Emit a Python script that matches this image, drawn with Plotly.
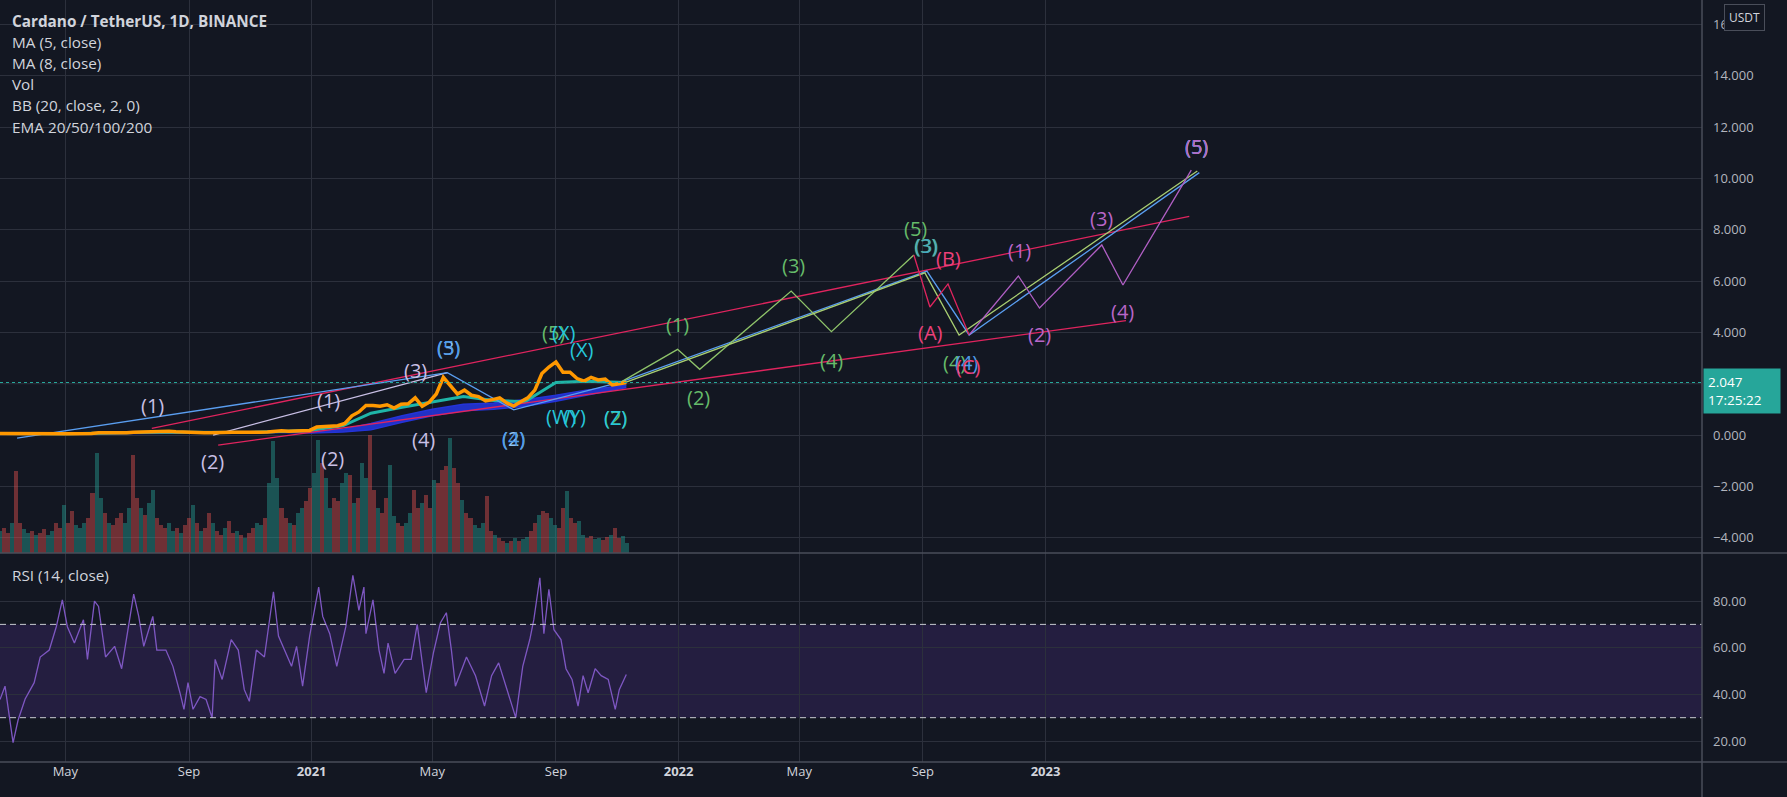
import pandas as pd
import plotly.graph_objects as go

# ---------------- data ----------------
close_start = "2020-02-26"
close_vals = [0.055, 0.053, 0.038, 0.028, 0.030, 0.030, 0.035, 0.033, 0.039, 0.048,
              0.049, 0.047, 0.050, 0.060, 0.085, 0.084, 0.078, 0.080, 0.088, 0.110,
              0.118, 0.130, 0.140, 0.140, 0.145, 0.128, 0.110, 0.100, 0.095, 0.090,
              0.086, 0.102, 0.103, 0.106, 0.108, 0.098, 0.094, 0.103, 0.118, 0.150,
              0.163, 0.150, 0.162, 0.140, 0.180, 0.310, 0.330, 0.350, 0.360, 0.450,
              0.750, 0.900, 1.150, 1.150, 1.120, 1.180, 1.050, 1.200, 1.220, 1.450,
              1.120, 1.280, 1.600, 2.250, 1.900, 1.600, 1.750, 1.550, 1.500, 1.330,
              1.380, 1.450, 1.250, 1.130, 1.300, 1.450, 1.750, 2.400, 2.650, 2.850,
              2.450, 2.450, 2.200, 2.100, 2.250, 2.150, 2.180, 1.950, 2.000, 2.047]

ema_dates = ["2020-02-26", "2020-04-01", "2020-05-01", "2020-06-01", "2020-07-01", "2020-08-01",
             "2020-09-01", "2020-10-01", "2020-11-01", "2020-12-01", "2021-01-01", "2021-02-01",
             "2021-03-01", "2021-04-01", "2021-05-01", "2021-06-01", "2021-07-01", "2021-08-01",
             "2021-09-01", "2021-10-01", "2021-11-10"]
band_lo = [0.05, 0.04, 0.04, 0.045, 0.055, 0.07, 0.08, 0.09, 0.09, 0.095, 0.08, 0.12,
           0.20, 0.50, 0.75, 0.95, 1.00, 1.12, 1.32, 1.55, 1.85]
band_hi = [0.06, 0.05, 0.045, 0.06, 0.07, 0.09, 0.10, 0.10, 0.10, 0.12, 0.13, 0.22,
           0.45, 0.75, 1.00, 1.20, 1.25, 1.38, 1.55, 1.75, 1.95]
ema_fast = [0.055, 0.035, 0.045, 0.07, 0.09, 0.12, 0.11, 0.10, 0.10, 0.14, 0.19, 0.36,
            0.85, 1.08, 1.30, 1.50, 1.35, 1.30, 2.05, 2.10, 2.05]

vol_start = "2020-02-26"
vol_m = [440, 500, 400, 600, 1640, 600, 480, 400, 440, 360,
         400, 480, 360, 440, 600, 500, 960, 600, 840, 560,
         500, 600, 700, 1200, 2000, 1100, 800, 600, 560, 700,
         800, 600, 900, 1960, 1100, 900, 760, 1000, 1260, 700,
         560, 500, 600, 440, 500, 400, 560, 700, 960, 600,
         440, 500, 800, 600, 440, 360, 500, 640, 400, 440,
         360, 300, 400, 500, 600, 560, 700, 1400, 2240, 1500,
         900, 700, 600, 560, 800, 900, 1040, 1300, 1600, 2260,
         1800, 1500, 900, 1100, 1040, 1400, 1600, 1560, 1000, 1100,
         1800, 1500, 2360, 1260, 900, 800, 1100, 1760, 740, 600,
         540, 600, 800, 1260, 900, 1000, 1160, 900, 1460, 1400,
         1660, 1740, 2300, 1700, 1400, 1060, 800, 700, 560, 500,
         600, 1140, 440, 360, 300, 240, 200, 240, 300, 240,
         280, 320, 440, 600, 760, 840, 800, 700, 560, 500,
         900, 1240, 700, 600, 640, 360, 300, 340, 280, 300,
         260, 320, 360, 500, 300, 340, 200]
vol_dir = ("uddudduudu" "dduudduddu" "uudduududd" "duudduduud" "dduududdud"
           "uddudduddu" "dudduuduuu" "dduduudduu" "duudduudud" "uuddudduud"
           "duudduddud" "dduddudduu" "udduddudud" "uuddudduud" "dudduudduu" "ddudduu")

rsi_dates = ["2020-02-26", "2020-03-02", "2020-03-10", "2020-03-15", "2020-03-22", "2020-03-31",
             "2020-04-06", "2020-04-15", "2020-04-22", "2020-04-28",
             "2020-05-03", "2020-05-10", "2020-05-19", "2020-05-23", "2020-05-30", "2020-06-03",
             "2020-06-10", "2020-06-19", "2020-06-26", "2020-07-02",
             "2020-07-08", "2020-07-13", "2020-07-18", "2020-07-27", "2020-07-31", "2020-08-09",
             "2020-08-16", "2020-08-23", "2020-08-27", "2020-08-31",
             "2020-09-05", "2020-09-12", "2020-09-18", "2020-09-24", "2020-09-27", "2020-10-04",
             "2020-10-13", "2020-10-20", "2020-10-26", "2020-10-31",
             "2020-11-07", "2020-11-15", "2020-11-24", "2020-11-29", "2020-12-05", "2020-12-12",
             "2020-12-17", "2020-12-23", "2020-12-30", "2021-01-08",
             "2021-01-12", "2021-01-19", "2021-01-26", "2021-02-04", "2021-02-11", "2021-02-17",
             "2021-02-22", "2021-02-24", "2021-03-03", "2021-03-09",
             "2021-03-14", "2021-03-18", "2021-03-25", "2021-04-03", "2021-04-10", "2021-04-16",
             "2021-04-25", "2021-05-02", "2021-05-09", "2021-05-15",
             "2021-05-20", "2021-05-24", "2021-06-04", "2021-06-13", "2021-06-22", "2021-06-29",
             "2021-07-06", "2021-07-12", "2021-07-23", "2021-07-30",
             "2021-08-06", "2021-08-10", "2021-08-16", "2021-08-20", "2021-08-25", "2021-08-30",
             "2021-09-06", "2021-09-11", "2021-09-17", "2021-09-23",
             "2021-09-28", "2021-10-03", "2021-10-10", "2021-10-16", "2021-10-23", "2021-10-30",
             "2021-11-03", "2021-11-10"]
rsi_vals = [37.8, 43.5, 19.3, 29, 38, 45, 56, 59, 69, 80.5,
            69, 62, 72, 55, 80, 77.7, 56, 60.6, 51, 67.7,
            83, 73.4, 60.6, 73.4, 59, 59, 52, 40.7, 33.6, 45,
            33.6, 39, 37.8, 30, 55, 46.4, 63.5, 59, 42, 37,
            59, 56, 84, 65, 59, 52, 60.6, 43.5, 65, 86,
            73.4, 66, 52, 69, 91, 76, 86, 66, 80.5, 59,
            49, 62, 49, 55, 55, 70, 40.7, 57.6, 70.6, 75,
            59, 43.5, 56, 48, 35, 48, 53.5, 45, 30, 52,
            63.5, 72, 90, 66, 85, 67.7, 63.5, 51, 46.4, 35,
            48, 40.7, 51, 48, 46.4, 33.6, 42, 48.5]

last_price = 2.047
price_ticks = [-4, -2, 0, 4, 6, 8, 10, 12, 14, 16]   # 2.000 is hidden behind the price tag
price_grid_extra = [2]
rsi_ticks = [20, 40, 60, 80]
time_ticks = ["2020-05-01", "2020-09-01", "2021-01-01", "2021-05-01", "2021-09-01",
              "2022-01-01", "2022-05-01", "2022-09-01", "2023-01-01"]
time_labels = ["May", "Sep", "<b>2021</b>", "May", "Sep", "<b>2022</b>", "May", "Sep", "<b>2023</b>"]

# drawings (date, price)
blue_x = ["2020-03-14", "2021-05-16", "2021-07-21", "2021-11-05", "2022-09-05", "2022-10-17", "2023-06-03"]
blue_y = [-0.12, 2.43, 0.98, 2.07, 6.39, 3.90, 10.23]
pink_up_x = ["2020-07-26", "2023-05-24"]
pink_up_y = [0.26, 8.52]
pink_lo_x = ["2020-09-30", "2023-03-22"]
pink_lo_y = [-0.39, 4.46]
lav_x = ["2020-09-25", "2021-05-16"]
lav_y = [0.0, 2.43]
green_x = ["2021-11-05", "2021-12-31", "2022-01-22", "2022-04-23", "2022-06-02", "2022-08-23"]
green_y = [2.07, 3.34, 2.56, 5.61, 4.03, 7.02]
olive_x = ["2021-11-05", "2022-09-03", "2022-10-07", "2023-06-01"]
olive_y = [1.99, 6.32, 3.90, 10.29]
abc_x = ["2022-08-23", "2022-09-08", "2022-09-26", "2022-10-17"]
abc_y = [7.02, 4.99, 5.89, 3.90]
purple_x = ["2022-10-17", "2022-12-05", "2022-12-26", "2023-02-26", "2023-03-19", "2023-05-26"]
purple_y = [3.90, 6.20, 4.95, 7.41, 5.85, 10.33]

LAV, BLUE, LBLUE, GREEN, TEAL, PINK, PURPLE = ("#c9c0e6", "#4f9be8", "#8ec5f5", "#66bb6a",
                                               "#26c6da", "#ec407a", "#b966c9")
wave_labels = [
    ("(1)", "2020-07-27", 1.17, LAV), ("(2)", "2020-09-24", -1.05, LAV),
    ("(1)", "2021-01-18", 1.36, LAV), ("(2)", "2021-01-22", -0.90, LAV),
    ("(3)", "2021-04-14", 2.53, LAV), ("(4)", "2021-04-22", -0.19, LAV),
    ("(3)", "2021-05-17", 3.43, LBLUE), ("(5)", "2021-05-17", 3.43, BLUE),
    ("(2)", "2021-07-21", -0.12, LBLUE), ("(4)", "2021-07-21", -0.12, BLUE),
    ("(5)", "2021-08-30", 3.98, GREEN), ("(X)", "2021-09-09", 3.98, TEAL),
    ("(X)", "2021-09-26", 3.35, TEAL),
    ("(W)", "2021-09-06", 0.74, TEAL), ("(Y)", "2021-09-19", 0.74, TEAL),
    ("(2)", "2021-10-30", 0.70, GREEN), ("(Z)", "2021-10-30", 0.70, TEAL),
    ("(1)", "2021-12-31", 4.29, GREEN), ("(2)", "2022-01-21", 1.48, GREEN),
    ("(3)", "2022-04-25", 6.59, GREEN), ("(4)", "2022-06-02", 2.92, GREEN),
    ("(5)", "2022-08-25", 8.07, GREEN),
    ("(3)", "2022-09-04", 7.37, GREEN), ("(3)", "2022-09-05", 7.37, "#42a5c5"),
    ("(B)", "2022-09-26", 6.90, PINK), ("(A)", "2022-09-09", 3.98, PINK),
    ("(4)", "2022-10-02", 2.81, GREEN), ("(4)", "2022-10-14", 2.81, BLUE),
    ("(C)", "2022-10-16", 2.69, PINK),
    ("(1)", "2022-12-06", 7.21, PURPLE), ("(2)", "2022-12-26", 3.90, PURPLE),
    ("(3)", "2023-02-26", 8.46, PURPLE), ("(4)", "2023-03-19", 4.80, PURPLE),
    ("(5)", "2023-05-31", 11.23, LAV), ("(5)", "2023-05-31", 11.23, GREEN),
    ("(5)", "2023-05-31", 11.23, BLUE), ("(5)", "2023-05-31", 11.23, PURPLE),
]

legend_lines = ["<b>Cardano / TetherUS, 1D, BINANCE</b>", "MA (5, close)", "MA (8, close)",
                "Vol", "BB (20, close, 2, 0)", "EMA 20/50/100/200"]

# ---------------- figure ----------------
W, H = 1787, 797
ML, MR, MT, MB = 0, 85, 0, 35
PW, PH = W - ML - MR, H - MT - MB
SPLIT = 209 / PH  # RSI pane height fraction
BG = "#131722"
GRID = "#2c303c"
SEP = "#4a4e5a"
TXT = "#d1d4dc"
FONT = "Open Sans, sans-serif"

fig = go.Figure()

close_dates = pd.date_range(close_start, periods=len(close_vals), freq="7D")
vol_dates = pd.date_range(vol_start, periods=len(vol_m), freq="4D")
vol_colors = ["rgba(38,166,154,0.42)" if c == "u" else "rgba(239,83,80,0.42)" for c in vol_dir]

fig.add_trace(go.Bar(x=vol_dates, y=vol_m, marker_color=vol_colors, marker_line_width=0,
                     width=4 * 86400000, yaxis="y3", xaxis="x"))

fig.add_trace(go.Scatter(x=ema_dates, y=band_lo, mode="lines", line=dict(color="#2434d8", width=1.5),
                         yaxis="y", xaxis="x"))
fig.add_trace(go.Scatter(x=ema_dates, y=band_hi, mode="lines", line=dict(color="#2434d8", width=1.5),
                         fill="tonexty", fillcolor="rgba(36,52,216,0.9)", yaxis="y", xaxis="x"))
fig.add_trace(go.Scatter(x=ema_dates, y=ema_fast, mode="lines", line=dict(color="#1fb5a8", width=3),
                         yaxis="y", xaxis="x"))

drawings = [
    (pink_up_x, pink_up_y, "#e0245e"), (pink_lo_x, pink_lo_y, "#e0245e"),
    (lav_x, lav_y, "#c9c0e6"), (blue_x, blue_y, "#5a9ef0"),
    (green_x, green_y, "#8fc46a"), (olive_x, olive_y, "#a9cf72"),
    (abc_x, abc_y, "#e0245e"), (purple_x, purple_y, "#b05fc4"),
]
for dx, dy, col in drawings:
    fig.add_trace(go.Scatter(x=dx, y=dy, mode="lines", line=dict(color=col, width=1.3),
                             yaxis="y", xaxis="x"))

fig.add_trace(go.Scatter(x=close_dates, y=close_vals, mode="lines",
                         line=dict(color="#ff9800", width=3.5), yaxis="y", xaxis="x"))

fig.add_trace(go.Scatter(x=rsi_dates, y=rsi_vals, mode="lines", line=dict(color="#7e57c2", width=1.3),
                         yaxis="y2", xaxis="x"))

annotations = []
for txt, d, p, col in wave_labels:
    annotations.append(dict(x=d, y=p, xref="x", yref="y", text=txt, showarrow=False,
                            font=dict(family=FONT, size=20, color=col)))
for i, t in enumerate(legend_lines):
    annotations.append(dict(x=10 / PW, y=1 - (21 + 21.1 * i) / PH, xref="paper", yref="paper",
                            xanchor="left", yanchor="middle", text=t, showarrow=False,
                            font=dict(family=FONT, size=15.3, color=TXT)))
annotations.append(dict(x=10 / PW, y=1 - 575 / PH, xref="paper", yref="paper", xanchor="left",
                        yanchor="middle", text="RSI (14, close)", showarrow=False,
                        font=dict(family=FONT, size=15.3, color=TXT)))
annotations.append(dict(x=1, y=last_price, xref="paper", yref="y", xanchor="left", yanchor="middle",
                        yshift=-8, xshift=1, text=f"{last_price:.3f}<br>17:25:22", align="left",
                        showarrow=False, bgcolor="#26a69a", borderpad=4, width=68,
                        font=dict(family=FONT, size=13.5, color="#ffffff")))
annotations.append(dict(x=1 + 42 / PW, y=1 - 17 / PH, xref="paper", yref="paper", xanchor="center",
                        yanchor="middle", text="USDT", showarrow=False, bgcolor=BG,
                        bordercolor="#4a4e5a", borderwidth=1, borderpad=4,
                        font=dict(family=FONT, size=12, color=TXT)))

shapes = [
    dict(type="rect", xref="paper", yref="y2", x0=0, x1=1, y0=30, y1=70,
         fillcolor="rgba(103,58,183,0.2)", line=dict(width=0), layer="below"),
    dict(type="line", xref="paper", yref="y2", x0=0, x1=1, y0=70, y1=70,
         line=dict(color="#c8cad0", width=1, dash="6px,4px")),
    dict(type="line", xref="paper", yref="y2", x0=0, x1=1, y0=30, y1=30,
         line=dict(color="#c8cad0", width=1, dash="6px,4px")),
    dict(type="line", xref="paper", yref="y", x0=0, x1=1, y0=last_price, y1=last_price,
         line=dict(color="#26a69a", width=1, dash="dot")),
    dict(type="line", xref="paper", yref="paper", x0=0, x1=W / PW, y0=SPLIT, y1=SPLIT,
         line=dict(color=SEP, width=1.5)),
    dict(type="line", xref="paper", yref="paper", x0=0, x1=W / PW, y0=0, y1=0,
         line=dict(color=SEP, width=1.5)),
    dict(type="line", xref="paper", yref="paper", x0=1, x1=1, y0=-MB / PH, y1=1,
         line=dict(color=SEP, width=1.5)),
]
for gv in price_grid_extra:
    shapes.append(dict(type="line", xref="paper", yref="y", x0=0, x1=1, y0=gv, y1=gv,
                       line=dict(color=GRID, width=1), layer="below"))

axis_font = dict(family=FONT, size=13, color="#b2b5be")
fig.update_layout(
    width=W, height=H, margin=dict(l=ML, r=MR, t=MT, b=MB),
    paper_bgcolor=BG, plot_bgcolor=BG, showlegend=False, hovermode=False,
    bargap=0,
    xaxis=dict(type="date", domain=[0, 1], anchor="y2", range=["2020-02-26", "2024-10-15"],
               tickvals=time_ticks, ticktext=time_labels, showgrid=True, gridcolor=GRID,
               zeroline=False, showline=False, ticks="", tickfont=dict(family=FONT, size=13, color=TXT)),
    yaxis=dict(domain=[SPLIT, 1], range=[-4.6, 16.96], side="right", anchor="x",
               tickvals=price_ticks, tickformat=".3f", showgrid=True, gridcolor=GRID,
               zeroline=False, showline=False, ticks="", ticklabelstandoff=10, tickfont=axis_font),
    yaxis2=dict(domain=[0, SPLIT], range=[11, 100.6], side="right", anchor="x",
                tickvals=rsi_ticks, tickformat=".2f", showgrid=True, gridcolor=GRID,
                zeroline=False, showline=False, ticks="", ticklabelstandoff=10, tickfont=axis_font),
    yaxis3=dict(overlaying="y", range=[0, 11060], visible=False, anchor="x"),
    annotations=annotations, shapes=shapes,
)

fig.write_html("out.html", config={"displayModeBar": False})
